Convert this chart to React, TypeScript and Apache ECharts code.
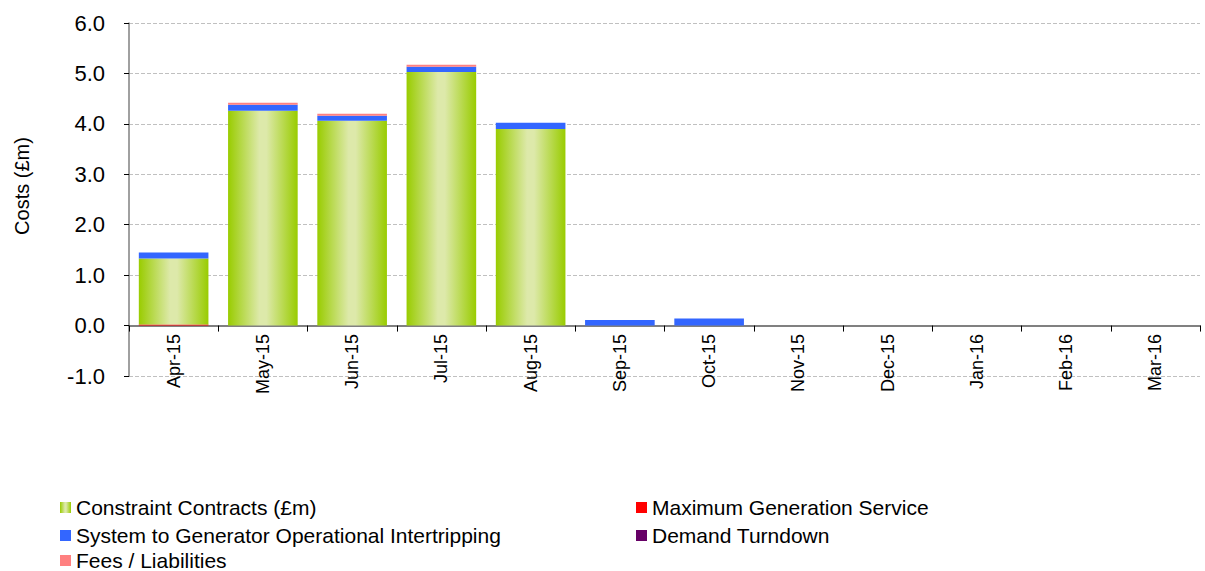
import React, { useEffect, useRef } from "react";
import * as echarts from "echarts";

const categories = ["Apr-15", "May-15", "Jun-15", "Jul-15", "Aug-15", "Sep-15", "Oct-15", "Nov-15", "Dec-15", "Jan-16", "Feb-16", "Mar-16"];
const maxGeneration = [0.02, 0, 0, 0, 0, 0, 0, 0, 0, 0, 0, 0];
const constraintContracts = [1.31, 4.26, 4.06, 5.03, 3.9, 0, 0, 0, 0, 0, 0, 0];
const intertripping = [0.12, 0.12, 0.1, 0.1, 0.12, 0.11, 0.14, 0, 0, 0, 0, 0];
const demandTurndown = [0, 0, 0, 0, 0, 0, 0, 0, 0, 0, 0, 0];
const feesLiabilities = [0, 0.04, 0.04, 0.04, 0, 0, 0, 0, 0, 0, 0, 0];

const FONT = "'Liberation Sans', Arial, sans-serif";

export default function App() {
  const ref = useRef<HTMLDivElement>(null);
  useEffect(() => {
    document.body.style.margin = "0";
    if (!ref.current) return;
    const chart = echarts.init(ref.current, undefined, { renderer: "svg" });
    const green = new echarts.graphic.LinearGradient(0, 0, 1, 0, [
      { offset: 0, color: "#99cc00" },
      { offset: 0.45, color: "#dde9aa" },
      { offset: 0.55, color: "#dde9aa" },
      { offset: 1, color: "#99cc00" },
    ]);
    const legendText = { fontFamily: FONT, fontSize: 21, color: "#000", lineHeight: 16 };
    const mkLegend = (name: string, left: number, centerY: number) => ({
      orient: "horizontal",
      left,
      top: centerY - 8,
      padding: 0,
      itemWidth: 11,
      itemHeight: 11,
      icon: "rect",
      textStyle: legendText,
      data: [name],
    });
    chart.setOption({
      animation: false,
      textStyle: { fontFamily: FONT },
      grid: { left: 129, right: 5, top: 23, bottom: 195, containLabel: false },
      legend: [
        mkLegend("Constraint Contracts (£m)", 60, 505),
        mkLegend("System to Generator Operational Intertripping", 60, 533),
        mkLegend("Fees / Liabilities", 60, 558),
        mkLegend("Maximum Generation Service", 636, 505),
        mkLegend("Demand Turndown", 636, 533),
      ],
      graphic: [
        {
          type: "text",
          x: 22,
          y: 186,
          rotation: Math.PI / 2,
          style: {
            text: "Costs (£m)",
            fontFamily: FONT,
            fontSize: 20,
            fill: "#000",
            align: "center",
            verticalAlign: "middle",
          },
        },
      ],
      xAxis: {
        type: "category",
        data: categories,
        axisLine: { onZero: true, lineStyle: { color: "#808080", width: 2 } },
        axisTick: { show: true, length: 6, lineStyle: { color: "#000" } },
        axisLabel: { rotate: 90, fontSize: 18, color: "#000", fontFamily: FONT, margin: -42 },
        splitLine: { show: false },
      },
      yAxis: {
        type: "value",
        min: -1,
        max: 6,
        interval: 1,
        axisLine: { show: true, lineStyle: { color: "#808080", width: 1.5 } },
        axisTick: { show: true, length: 5, lineStyle: { color: "#000" } },
        axisLabel: {
          fontSize: 22,
          color: "#000",
          fontFamily: FONT,
          margin: 24,
          formatter: (v: number) => v.toFixed(1),
        },
        splitLine: { show: true, lineStyle: { color: "#c0c0c0", type: "dashed", width: 1 } },
      },
      series: [
        { name: "Maximum Generation Service", type: "bar", stack: "s", data: maxGeneration, itemStyle: { color: "#ff0000" }, barCategoryGap: "22%" },
        { name: "Constraint Contracts (£m)", type: "bar", stack: "s", data: constraintContracts, itemStyle: { color: green } },
        { name: "System to Generator Operational Intertripping", type: "bar", stack: "s", data: intertripping, itemStyle: { color: "#3366ff" } },
        { name: "Demand Turndown", type: "bar", stack: "s", data: demandTurndown, itemStyle: { color: "#660066" } },
        { name: "Fees / Liabilities", type: "bar", stack: "s", data: feesLiabilities, itemStyle: { color: "#ff8080" } },
      ],
    });
    return () => chart.dispose();
  }, []);
  return <div ref={ref} style={{ width: 1205, height: 571 }} />;
}
